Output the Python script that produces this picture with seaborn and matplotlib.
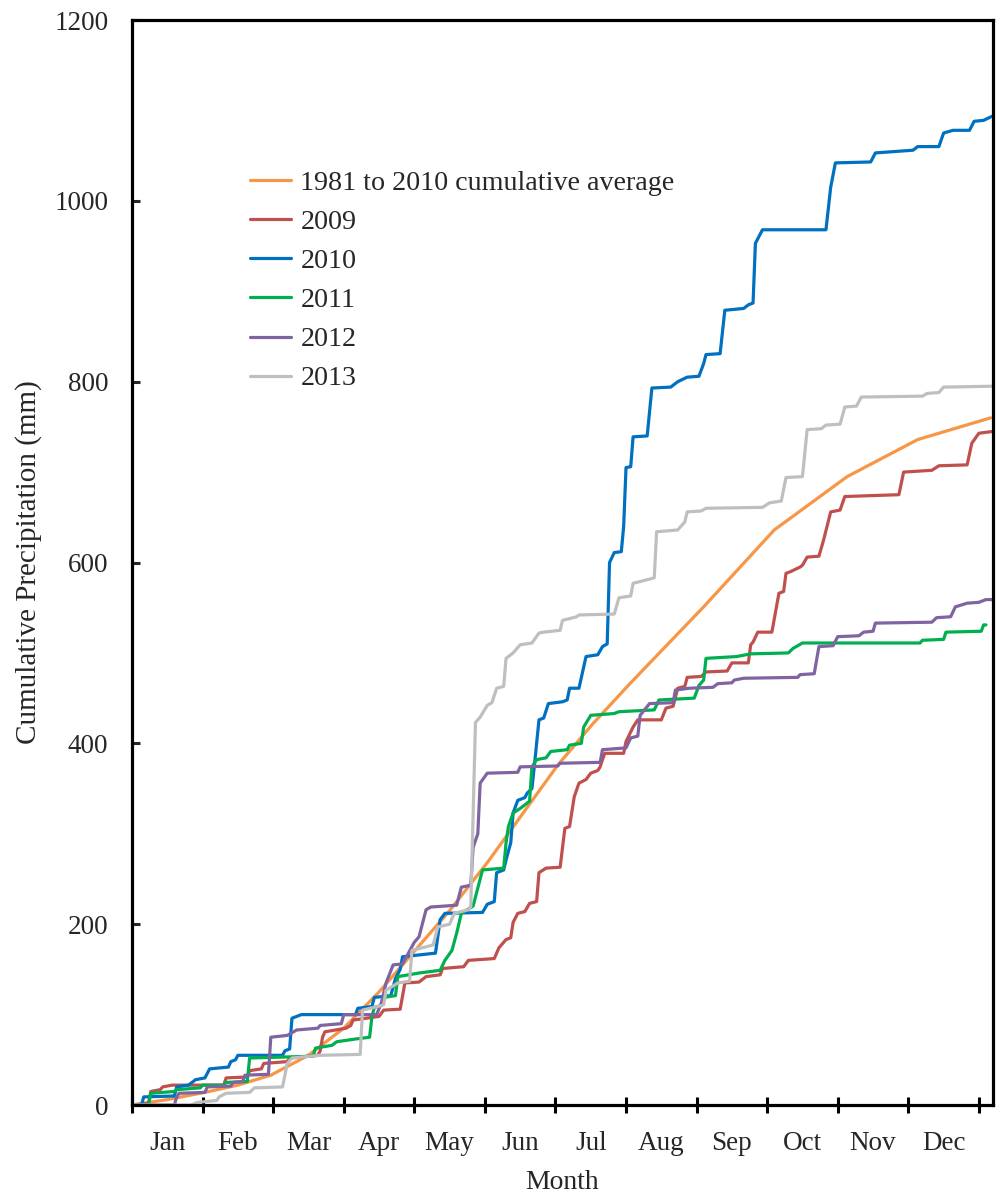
import matplotlib
matplotlib.use('Agg')
import matplotlib.pyplot as plt
import seaborn as sns
import pandas as pd

# Datos: dia del año y precipitacion acumulada (mm)
month_labels = ['Jan', 'Feb', 'Mar', 'Apr', 'May', 'Jun',
                'Jul', 'Aug', 'Sep', 'Oct', 'Nov', 'Dec']

avg_day = [0, 15, 31, 45, 59, 75, 90, 105, 120, 135, 151, 166, 181, 196,
           212, 243, 273, 304, 334, 365]
avg_mm = [0, 6, 14, 22, 33, 55, 85, 125, 170, 215, 268, 322, 376, 422,
          467, 551, 636, 695, 736, 760]

day_2009 = [0, 7, 8, 12, 13, 17, 39, 40, 49, 50, 55, 56, 66, 67, 79, 80, 81,
            82, 91, 93, 94, 105, 107, 114, 116, 122, 125, 131, 132, 141, 143,
            154, 156, 159, 161, 162, 164, 167, 169, 172, 173, 176, 182, 184,
            186, 188, 190, 193, 195, 198, 199, 200, 201, 209, 210, 213, 215,
            225, 227, 230, 232, 235, 236, 242, 244, 253, 255, 262, 263, 264,
            266, 272, 275, 277, 278, 280, 284, 285, 287, 292, 294, 297, 301,
            303, 326, 328, 340, 343, 355, 357, 360, 366]
mm_2009 = [0, 2, 15, 17, 20, 22, 22, 30, 31, 38, 40, 46, 48, 52, 55, 60, 75,
           81, 85, 88, 94, 98, 105, 106, 135, 136, 142, 144, 151, 153, 160,
           162, 174, 183, 185, 202, 212, 214, 223, 225, 257, 262, 263, 306,
           308, 341, 356, 360, 367, 370, 374, 382, 389, 389, 402, 418, 426,
           426, 439, 441, 461, 463, 473, 474, 479, 480, 489, 489, 509, 512,
           523, 523, 566, 568, 588, 590, 595, 597, 606, 607, 625, 656, 658,
           673, 675, 700, 702, 707, 708, 732, 743, 745]

day_2010 = [0, 4, 5, 18, 19, 24, 27, 31, 33, 41, 42, 44, 45, 64, 65, 67, 68,
            72, 95, 96, 102, 103, 110, 112, 114, 115, 129, 131, 133, 149, 151,
            154, 155, 158, 159, 161, 162, 164, 167, 168, 170, 171, 173, 175,
            177, 183, 185, 186, 190, 193, 198, 200, 202, 203, 205, 208, 209,
            210, 212, 213, 219, 221, 229, 232, 236, 241, 243, 244, 250, 252,
            260, 262, 264, 265, 268, 295, 297, 299, 314, 316, 332, 334, 343,
            345, 349, 356, 358, 362, 366]
mm_2010 = [0, 0, 9, 10, 20, 22, 28, 30, 40, 42, 48, 50, 55, 55, 60, 62, 96,
           100, 100, 107, 109, 119, 121, 140, 150, 164, 168, 205, 212, 213,
           222, 225, 257, 260, 271, 290, 323, 337, 340, 345, 350, 374, 426,
           428, 444, 446, 448, 461, 461, 496, 498, 507, 510, 600, 611, 612,
           640, 705, 706, 739, 740, 793, 794, 800, 805, 806, 820, 830, 831,
           879, 881, 885, 887, 953, 968, 968, 1015, 1042, 1043, 1053, 1056,
           1060, 1060, 1075, 1078, 1078, 1088, 1089, 1094]

day_2011 = [0, 7, 8, 18, 19, 29, 30, 39, 40, 49, 50, 77, 78, 85, 87, 95, 101,
            102, 103, 106, 107, 112, 113, 122, 131, 133, 136, 138, 140, 145,
            149, 158, 159, 160, 162, 165, 168, 169, 170, 172, 176, 178, 185,
            186, 191, 192, 195, 205, 207, 222, 224, 239, 241, 243, 244, 257,
            263, 279, 281, 285, 335, 336, 345, 346, 361, 362, 363]
mm_2011 = [0, 0, 13, 15, 17, 19, 22, 22, 25, 26, 52, 54, 63, 66, 70, 73, 75,
           98, 108, 110, 119, 121, 142, 146, 149, 160, 171, 190, 212, 220,
           260, 262, 290, 308, 323, 328, 334, 336, 374, 382, 384, 391, 393,
           398, 400, 418, 431, 433, 435, 437, 448, 450, 464, 470, 494, 496,
           499, 500, 505, 511, 511, 514, 515, 523, 524, 531, 531]

day_2012 = [0, 18, 19, 20, 31, 32, 42, 43, 47, 48, 58, 59, 66, 70, 79, 80, 89,
            90, 104, 106, 108, 111, 115, 120, 122, 125, 127, 138, 140, 144,
            145, 147, 148, 151, 164, 165, 181, 182, 199, 200, 210, 212, 215,
            216, 220, 230, 231, 237, 247, 249, 255, 256, 260, 283, 284, 290,
            292, 298, 300, 309, 311, 315, 316, 340, 342, 348, 350, 355, 360,
            363, 366]
mm_2012 = [0, 0, 9, 13, 14, 20, 21, 25, 26, 33, 34, 75, 77, 83, 85, 88, 90,
           100, 100, 113, 135, 155, 156, 180, 186, 216, 219, 221, 241, 243,
           285, 300, 356, 367, 368, 374, 375, 378, 379, 393, 395, 406, 408,
           431, 444, 445, 459, 461, 462, 466, 467, 470, 472, 473, 476, 477,
           507, 508, 518, 519, 523, 524, 533, 534, 539, 540, 551, 555, 556,
           559, 559]

day_2013 = [0, 25, 28, 36, 37, 40, 50, 52, 64, 66, 68, 80, 97, 98, 106, 107,
            108, 113, 118, 119, 128, 130, 135, 137, 143, 144, 146, 148, 151,
            153, 155, 158, 159, 162, 165, 170, 173, 175, 182, 183, 189, 190,
            205, 207, 212, 213, 219, 222, 223, 232, 235, 236, 242, 244, 268,
            271, 276, 278, 285, 287, 293, 295, 301, 303, 308, 310, 336, 338,
            343, 345, 366]
mm_2013 = [0, 0, 3, 5, 9, 13, 14, 19, 20, 46, 52, 55, 56, 105, 110, 111, 127,
           135, 137, 171, 177, 197, 200, 212, 216, 219, 423, 429, 442, 445,
           461, 463, 494, 500, 509, 511, 522, 523, 525, 536, 540, 542, 543,
           561, 563, 577, 581, 583, 634, 636, 645, 656, 657, 660, 661, 666,
           668, 694, 695, 747, 748, 752, 753, 772, 773, 783, 784, 787, 788,
           794, 795]

series = [('1981 to 2010 cumulative average', avg_day, avg_mm, '#F79646'),
          ('2009', day_2009, mm_2009, '#C0504D'),
          ('2010', day_2010, mm_2010, '#0070C0'),
          ('2011', day_2011, mm_2011, '#00B050'),
          ('2012', day_2012, mm_2012, '#8064A2'),
          ('2013', day_2013, mm_2013, '#BFBFBF')]

sns.set_style('ticks')
plt.rcParams['font.family'] = ['Liberation Serif', 'DejaVu Serif']
fs = 19.5

fig = plt.figure(figsize=(10, 11.98), dpi=100)
ax = fig.add_axes([0.132, 0.0776, 0.861, 0.9057])

for label, d, v, c in series:
    df = pd.DataFrame({'day': d, 'mm': v})
    sns.lineplot(data=df, x='day', y='mm', ax=ax, color=c, linewidth=2.3,
                 label=label, estimator=None, sort=False)

ax.set_xlim(0, 366)
ax.set_ylim(0, 1200)
ax.set_yticks(range(0, 1201, 200))
ax.set_xticks(range(0, 361, 30))
ax.set_xticklabels([])
ax.set_xticks([15 + 30 * i for i in range(12)], minor=True)
ax.set_xticklabels(month_labels, minor=True)
ax.tick_params(axis='x', which='major', direction='inout', length=11,
               width=2.2, color='black')
ax.tick_params(axis='x', which='minor', length=0, pad=19, labelsize=fs)
ax.tick_params(axis='y', direction='in', length=6, width=2.2, pad=17,
               labelsize=fs)
for s in ax.spines.values():
    s.set_linewidth(2.3)
    s.set_color('black')

ax.set_xlabel('Month', fontsize=20, labelpad=10)
ax.set_ylabel('Cumulative Precipitation (mm)', fontsize=21, labelpad=9)

ax.legend(loc='upper left', bbox_to_anchor=(0.137, 0.8615), frameon=False,
          fontsize=20.2, handlelength=1.45, handletextpad=0.35,
          labelspacing=0.48, borderpad=0, borderaxespad=0)

plt.savefig('out.png', dpi=100)
